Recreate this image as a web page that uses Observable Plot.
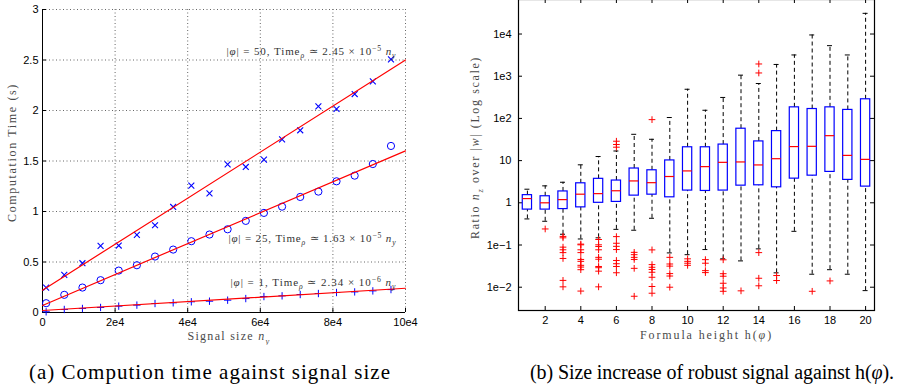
<!DOCTYPE html>
<html><head><meta charset="utf-8">
<script src="https://cdn.jsdelivr.net/npm/d3@7"></script>
<script src="https://cdn.jsdelivr.net/npm/@observablehq/plot@0.6"></script>
<style>
html,body{margin:0;padding:0;background:#fff;width:916px;height:387px;overflow:hidden;position:relative}
#a,#b{position:absolute}
#a{left:0;top:0}
#b{left:460px;top:-10px}
.cap{position:absolute;top:362px;font-family:"Liberation Serif","Times New Roman",serif;font-size:20px;line-height:20px;white-space:nowrap;color:#000}
</style></head><body>
<div id="a"></div><div id="b"></div>
<div class="cap" id="capA">(a) Compution time against signal size</div>
<div class="cap" id="capB">(b) Size increase of robust signal against h(<i>φ</i>).</div>
<script>
// ---------- (a) computation time ----------
const signalSizes = [1000, 6000, 11000, 16000, 21000, 26000, 31000, 36000, 41000, 46000, 51000, 56000, 61000, 66000, 71000, 76000, 81000, 86000, 91000, 96000];
const timePhi50 = [0.247, 0.373, 0.488, 0.659, 0.663, 0.768, 0.864, 1.045, 1.256, 1.180, 1.467, 1.441, 1.513, 1.714, 1.804, 2.041, 2.015, 2.163, 2.288, 2.506];
const timePhi25 = [0.092, 0.175, 0.247, 0.320, 0.415, 0.468, 0.554, 0.623, 0.706, 0.772, 0.824, 0.907, 0.986, 1.048, 1.144, 1.197, 1.299, 1.355, 1.470, 1.649];
const timePhi1 = [0.007, 0.030, 0.040, 0.050, 0.063, 0.073, 0.089, 0.096, 0.106, 0.112, 0.122, 0.138, 0.158, 0.165, 0.178, 0.188, 0.198, 0.204, 0.214, 0.227];
const fitSizes = [0, 100000];
const fitPhi50 = [0.22, 2.50];
const fitPhi25 = [0.07, 1.60];
const fitPhi1 = [0.02, 0.24];
const fitLabels = [
  "|$φ$| = 50, Time_{$ρ$} ≃ 2.45 × 10^{−5} $n$_{$y$}",
  "|$φ$| = 25, Time_{$ρ$} ≃ 1.63 × 10^{−5} $n$_{$y$}",
  "|$φ$| = 1, Time_{$ρ$} ≃ 2.34 × 10^{−6} $n$_{$y$}"
];
const fitLabelX = [97500, 97500, 97500];
const fitLabelY = [2.584, 0.733, 0.297];
const xTicksA = [0, 20000, 40000, 60000, 80000, 100000];
const xTickLabelsA = ["0", "2e4", "4e4", "6e4", "8e4", "10e4"];
const yTicksA = [0, 0.5, 1, 1.5, 2, 2.5, 3];
const yTickLabelsA = ["0", "0.5", "1", "1.5", "2", "2.5", "3"];
const xTitleA = "Signal size $n$_{$y$}";
const yTitleA = "Computation Time (s)";

// ---------- (b) box plots ----------
const heights = [1, 2, 3, 4, 5, 6, 7, 8, 9, 10, 11, 12, 13, 14, 15, 16, 17, 18, 19, 20];
const whiskerLow = [0.415, 0.365, 0.18, 0.139, 0.148, 0.235, 0.224, 0.43, 0.065, 0.059, 0.078, 0.047, 0.042, 0.081, 0.0219, 0.211, 0.0203, 0.026, 0.0203, 0.0083];
const boxLow = [0.69, 0.69, 0.71, 0.78, 1.0, 1.05, 1.48, 1.56, 1.35, 1.95, 1.91, 1.95, 2.55, 2.6, 2.33, 3.74, 4.4, 5.4, 3.49, 2.42];
const medians = [1.26, 1.0, 1.19, 1.6, 1.65, 1.93, 3.3, 3.0, 4.2, 5.7, 7.2, 9.1, 9.3, 7.9, 11.1, 21.5, 21.8, 39, 13.3, 10.7];
const boxHigh = [1.52, 1.43, 1.86, 2.9, 3.7, 3.37, 6.5, 5.9, 10.1, 20.7, 20.7, 24, 57, 28.5, 50, 183, 167, 183, 159, 284];
const whiskerHigh = [2.1, 2.52, 3.07, 7.95, 12.5, 16.9, 42, 32, 105, 491, 156, 314, 1060, 672, 1900, 3190, 9500, 5300, 3190, 30900];
const outlierHeights = [
  2,
  3, 3, 3, 3, 3, 3, 3, 3,
  4, 4, 4, 4, 4, 4, 4, 4, 4, 4,
  5, 5, 5, 5, 5, 5, 5, 5, 5, 5,
  6, 6, 6, 6, 6, 6, 6, 6, 6, 6, 6,
  7, 7, 7, 7, 7, 7,
  8, 8, 8, 8, 8, 8, 8, 8, 8,
  9, 9, 9, 9, 9, 9,
  10, 10, 10, 10,
  11, 11, 11, 11,
  12, 12, 12, 12, 12, 12,
  13,
  14, 14, 14, 14, 14,
  15, 15,
  17,
  18
];
const outlierValues = [
  0.24,
  0.160, 0.148, 0.089, 0.077, 0.066, 0.048, 0.0145, 0.0102,
  0.105, 0.101, 0.077, 0.066, 0.0455, 0.041, 0.033, 0.030, 0.026, 0.0081,
  0.135, 0.101, 0.092, 0.077, 0.051, 0.046, 0.031, 0.029, 0.024, 0.0102,
  28.8, 24.1, 20.8, 0.158, 0.11, 0.093, 0.078, 0.043, 0.036, 0.031, 0.022,
  0.067, 0.059, 0.051, 0.0455, 0.028, 0.0061,
  93.6, 0.0766, 0.0343, 0.0297, 0.0263, 0.0226, 0.0172, 0.0104, 0.0072,
  0.051, 0.0355, 0.0316, 0.021, 0.0184, 0.010,
  0.047, 0.041, 0.037, 0.033,
  0.045, 0.037, 0.0247, 0.0222,
  0.0446, 0.0209, 0.0182, 0.0124, 0.0096, 0.0080,
  0.0082,
  1950, 1194, 0.066, 0.0163, 0.0108,
  0.0189, 0.0144,
  0.0080,
  0.0141
];
const xTicksB = [2, 4, 6, 8, 10, 12, 14, 16, 18, 20];
const yTicksB = [0.01, 0.1, 1, 10, 100, 1000, 10000];
const yTickLabelsB = ["1e−2", "1e−1", "1", "10", "1e2", "1e3", "1e4"];
const xTitleB = "Formula height h($φ$)";
const yTitleB = "Ratio $n$_{$z$} over |$w$| (Log scale)";

// ---------- helpers ----------
const serif = "Liberation Serif, Times New Roman, serif";
const sans = "Liberation Sans, Arial, Helvetica, sans-serif";
const labelWidths = new Map([
  [fitLabels[0], 170], [fitLabels[1], 168], [fitLabels[2], 166],
  [xTitleA, 83], [yTitleA, 139], [xTitleB, 133], [yTitleB, 183]
]);

function richify(svg) {
  svg.querySelectorAll("text").forEach(t => {
    const s = t.textContent;
    if (!labelWidths.has(s)) return;
    const segs = [];
    let it = false, sh = 0, cur = null, count = 0;
    for (let i = 0; i < s.length; i++) {
      const c = s[i];
      if (c === "$") { it = !it; continue; }
      if ((c === "_" || c === "^") && s[i + 1] === "{") { sh = c === "_" ? 1 : -1; i++; continue; }
      if (c === "}" && sh !== 0) { sh = 0; continue; }
      if (!cur || cur.it !== it || cur.sh !== sh) { cur = {t: "", it, sh}; segs.push(cur); }
      cur.t += c; count++;
    }
    const fs = parseFloat(getComputedStyle(t).fontSize) || 12;
    while (t.firstChild) t.removeChild(t.firstChild);
    let prev = 0;
    for (const g of segs) {
      const ts = document.createElementNS("http://www.w3.org/2000/svg", "tspan");
      ts.textContent = g.t;
      if (g.it) ts.setAttribute("font-style", "italic");
      if (g.sh) ts.setAttribute("font-size", (fs * 0.7).toFixed(2));
      const off = g.sh === 1 ? 0.28 * fs : g.sh === -1 ? -0.4 * fs : 0;
      if (off !== prev) ts.setAttribute("dy", (off - prev).toFixed(2));
      prev = off;
      t.appendChild(ts);
    }
    const natural = t.getComputedTextLength();
    const ls = (labelWidths.get(s) - natural) / count;
    t.style.letterSpacing = ls.toFixed(3) + "px";
  });
}

const titleStyle = {fontFamily: serif, fontSize: 12, fill: "#4a4a4a", textAnchor: "middle", lineAnchor: "middle"};

// ---------- chart (a) ----------
const WA = 460, HA = 345, mlA = 42, mrA = 55, mtA = 9, mbA = 33;
const fwA = WA - mlA - mrA, fhA = HA - mtA - mbA;
const mapXA = new Map(xTicksA.map((d, i) => [d, xTickLabelsA[i]]));
const mapYA = new Map(yTicksA.map((d, i) => [d, yTickLabelsA[i]]));
const toPts = ys => signalSizes.map((x, i) => ({x, y: ys[i]}));
const toFit = ys => fitSizes.map((x, i) => ({x, y: ys[i]}));
const labelsA = fitLabels.map((label, i) => ({label, x: fitLabelX[i], y: fitLabelY[i]}));

const chartA = Plot.plot({
  width: WA, height: HA,
  marginLeft: mlA, marginRight: mrA, marginTop: mtA, marginBottom: mbA,
  style: {fontFamily: sans, fontSize: "11px", color: "#000", background: "transparent", overflow: "hidden"},
  x: {domain: [0, 100000]},
  y: {domain: [0, 3]},
  marks: [
    Plot.gridX(xTicksA.slice(1), {stroke: "#666", strokeOpacity: 1, strokeDasharray: "1,2.5"}),
    Plot.gridY(yTicksA.slice(1), {stroke: "#666", strokeOpacity: 1, strokeDasharray: "1,2.5"}),
    Plot.axisX(xTicksA, {tickSize: 0, tickPadding: 6, tickFormat: d => mapXA.get(d), label: null, fill: "#000"}),
    Plot.axisY(yTicksA, {tickSize: 0, tickPadding: 4, tickFormat: d => mapYA.get(d), label: null, fill: "#000"}),
    Plot.tickX(xTicksA, {insetTop: fhA - 4, stroke: "#000"}),
    Plot.tickY(yTicksA, {insetRight: fwA - 4, stroke: "#000"}),
    Plot.ruleX([0], {stroke: "#000"}),
    Plot.ruleY([0], {stroke: "#000"}),
    Plot.dot(toPts(timePhi50), {x: "x", y: "y", symbol: "times", r: 2.8, stroke: "#0000ff", fill: "none", strokeWidth: 1.1}),
    Plot.dot(toPts(timePhi25), {x: "x", y: "y", symbol: "circle", r: 3.6, stroke: "#0000ff", fill: "none", strokeWidth: 1}),
    Plot.dot(toPts(timePhi1), {x: "x", y: "y", symbol: "plus", r: 2.5, stroke: "#0000ff", fill: "none", strokeWidth: 1}),
    Plot.line(toFit(fitPhi50), {x: "x", y: "y", stroke: "#ff0000", strokeWidth: 1.2}),
    Plot.line(toFit(fitPhi25), {x: "x", y: "y", stroke: "#ff0000", strokeWidth: 1.2}),
    Plot.line(toFit(fitPhi1), {x: "x", y: "y", stroke: "#ff0000", strokeWidth: 1.2}),
    Plot.text(labelsA, {x: "x", y: "y", text: "label", textAnchor: "end", fontFamily: serif, fontSize: 11, fill: "#333"}),
    Plot.text([xTitleA], {...titleStyle, text: d => d, frameAnchor: "bottom", dx: 5, dy: 24}),
    Plot.text([yTitleA], {...titleStyle, text: d => d, frameAnchor: "left", rotate: -90, dx: -30, dy: -8.5})
  ]
});
document.getElementById("a").appendChild(chartA);
richify(chartA);

// ---------- chart (b) ----------
const WB = 456, HB = 355, mlB = 58, mrB = 42, mtB = 9, mbB = 35;
const fwB = WB - mlB - mrB, fhB = HB - mtB - mbB;
const mapYB = new Map(yTicksB.map((d, i) => [d, yTickLabelsB[i]]));
const boxes = heights.map((h, i) => ({h, lo: whiskerLow[i], q1: boxLow[i], med: medians[i], q3: boxHigh[i], hi: whiskerHigh[i]}));
const outliers = outlierHeights.map((h, i) => ({h, v: outlierValues[i]}));
const boxHalf = 0.26, capHalf = 0.14;

const chartB = Plot.plot({
  width: WB, height: HB,
  marginLeft: mlB, marginRight: mrB, marginTop: mtB, marginBottom: mbB,
  style: {fontFamily: sans, fontSize: "11px", color: "#000", background: "transparent", overflow: "hidden"},
  x: {domain: [0.5, 20.5]},
  y: {type: "log", domain: [0.002805, 65770]},
  marks: [
    Plot.axisX(xTicksB, {tickSize: 0, tickPadding: 6, label: null, fill: "#000"}),
    Plot.axisY(yTicksB, {tickSize: 0, tickPadding: 7, tickFormat: d => mapYB.get(d), label: null, fill: "#000"}),
    Plot.tickX(xTicksB, {insetTop: fhB - 4, stroke: "#000"}),
    Plot.tickX(xTicksB, {insetBottom: fhB - 4, stroke: "#000"}),
    Plot.tickY(yTicksB, {insetRight: fwB - 4, stroke: "#000"}),
    Plot.tickY(yTicksB, {insetLeft: fwB - 4, stroke: "#000"}),
    Plot.ruleX(boxes, {x: "h", y1: "q3", y2: "hi", stroke: "#000", strokeDasharray: "4,3"}),
    Plot.ruleX(boxes, {x: "h", y1: "lo", y2: "q1", stroke: "#000", strokeDasharray: "4,3"}),
    Plot.ruleY(boxes, {y: "hi", x1: d => d.h - capHalf, x2: d => d.h + capHalf, stroke: "#000"}),
    Plot.ruleY(boxes, {y: "lo", x1: d => d.h - capHalf, x2: d => d.h + capHalf, stroke: "#000"}),
    Plot.rect(boxes, {x1: d => d.h - boxHalf, x2: d => d.h + boxHalf, y1: "q1", y2: "q3", fill: "none", stroke: "#0000ff", strokeWidth: 1.2}),
    Plot.ruleY(boxes, {y: "med", x1: d => d.h - boxHalf, x2: d => d.h + boxHalf, stroke: "#ff0000", strokeWidth: 1.2}),
    Plot.dot(outliers, {x: "h", y: "v", symbol: "plus", r: 2.3, stroke: "#ff0000", fill: "none", strokeWidth: 1}),
    Plot.frame({stroke: "#000", strokeWidth: 1.2}),
    Plot.text([xTitleB], {...titleStyle, text: d => d, frameAnchor: "bottom", dx: 10, dy: 25}),
    Plot.text([yTitleB], {...titleStyle, text: d => d, frameAnchor: "left", rotate: -90, dx: -43, dy: -7.5})
  ]
});
document.getElementById("b").appendChild(chartB);
richify(chartB);

// ---------- captions ----------
function fitCaption(id, left, right, size) {
  const el = document.getElementById(id);
  el.style.left = left + "px";
  el.style.fontSize = size + "px";
  el.style.letterSpacing = "0px";
  const w = el.getBoundingClientRect().width;
  const n = el.textContent.length;
  el.style.letterSpacing = ((right - left - w) / n) + "px";
}
fitCaption("capA", 29, 391, 21);
fitCaption("capB", 530, 894, 20);
</script>
</body></html>
